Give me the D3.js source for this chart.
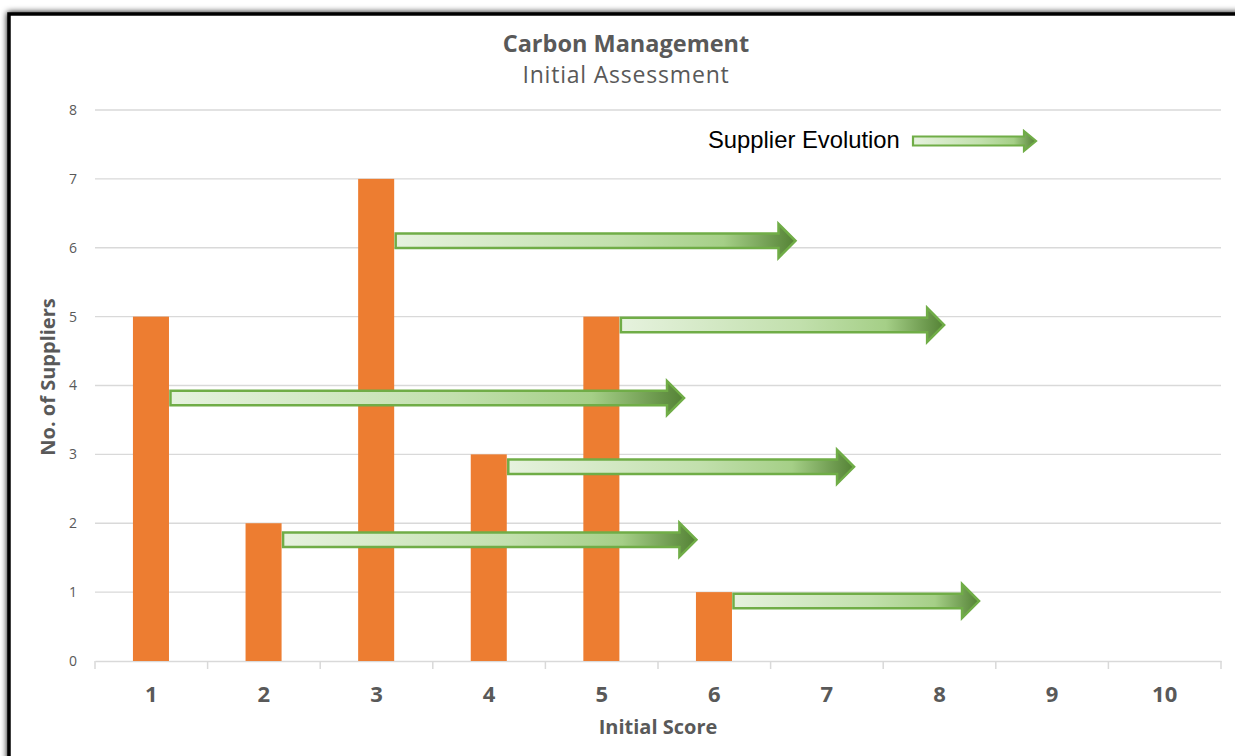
<!DOCTYPE html>
<html><head><meta charset="utf-8">
<script src="https://cdn.jsdelivr.net/npm/d3@7"></script>
<style>html,body{margin:0;padding:0;background:#fff;}svg{display:block;}</style>
</head><body>
<svg id="c" width="1235" height="756"></svg>
<script>
const categories = ["1","2","3","4","5","6","7","8","9","10"];
const supplierCounts = [5,2,7,3,5,1,0,0,0,0];
const yTicks = [0,1,2,3,4,5,6,7,8];
// evolution arrows: start at bar of category, end at score, drawn at level
const arrowFrom = ["1","2","3","4","5","6"];
const arrowToScore = [5.74, 5.85, 6.73, 7.25, 8.05, 8.36];
const arrowLevel = [3.82, 1.76, 6.10, 2.82, 4.88, 0.87];

const svg = d3.select("#c");
const W = 1235, H = 756;
const L = 95, R = 1221, T = 110, B = 661;
const grey = "#595959";
const font = "'Open Sans', sans-serif";

const defs = svg.append("defs");
const f = defs.append("filter").attr("id","sh").attr("x","-5%").attr("y","-5%").attr("width","110%").attr("height","110%");
f.append("feGaussianBlur").attr("in","SourceAlpha").attr("stdDeviation",3).attr("result","b");
f.append("feOffset").attr("in","b").attr("dx",0).attr("dy",0).attr("result","o");
const m = f.append("feMerge"); m.append("feMergeNode").attr("in","o"); m.append("feMergeNode").attr("in","SourceGraphic");
const g = defs.append("linearGradient").attr("id","ag").attr("x1","0").attr("x2","1").attr("y1","0").attr("y2","0");
g.append("stop").attr("offset","0").attr("stop-color","#e6f2de");
g.append("stop").attr("offset","0.55").attr("stop-color","#c2e0ad");
g.append("stop").attr("offset","0.82").attr("stop-color","#a5cf87");
g.append("stop").attr("offset","1").attr("stop-color","#548235");

// frame
svg.append("rect").attr("x",9).attr("y",14).attr("width",W+20).attr("height",H+20)
  .attr("fill","#fff").attr("stroke","#000").attr("stroke-width",3.5).attr("filter","url(#sh)");

const x = d3.scaleBand().domain(categories).range([L,R]);
const xs = d3.scaleLinear().domain([0.5,10.5]).range([L,R]);
const y = d3.scaleLinear().domain([0,8]).range([B,T]);

// gridlines
svg.append("g").selectAll("line").data(yTicks.filter(d=>d>0)).join("line")
  .attr("x1",L).attr("x2",R).attr("y1",d=>y(d)).attr("y2",d=>y(d))
  .attr("stroke","#d9d9d9").attr("stroke-width",1.3);

// y axis labels
const ya = svg.append("g").attr("transform",`translate(${L},0)`)
  .call(d3.axisLeft(y).tickValues(yTicks).tickSize(0).tickPadding(18));
ya.select(".domain").remove();
ya.selectAll("text").attr("fill",grey).style("font-family",font).style("font-size","14px");

// x axis
const xa = svg.append("g").attr("transform",`translate(0,${B})`)
  .call(d3.axisBottom(x).tickSize(0).tickPadding(0));
xa.select(".domain").attr("stroke","#d9d9d9").attr("stroke-width",1.5);
xa.selectAll("text").attr("dy",null).attr("y",41).attr("fill",grey).style("font-family",font).style("font-size","22px").style("font-weight","bold");
svg.append("g").selectAll("line").data(d3.range(categories.length+1)).join("line")
  .attr("x1",i=>L+i*x.bandwidth()).attr("x2",i=>L+i*x.bandwidth())
  .attr("y1",B).attr("y2",B+8).attr("stroke","#d9d9d9").attr("stroke-width",1.5);

// bars
const bw = x.bandwidth()*0.32, off = x.bandwidth()*0.337;
svg.append("g").selectAll("rect").data(categories.map((c,i)=>({c,v:supplierCounts[i]})).filter(d=>d.v>0)).join("rect")
  .attr("x",d=>x(d.c)+off).attr("width",bw)
  .attr("y",d=>y(d.v)).attr("height",d=>y(0)-y(d.v)).attr("fill","#ed7d31");

// arrow path generator
function arrowPath(x0,x1,cy,sh,hh,hl){
  const xb = x1-hl;
  return `M${x0},${cy-sh/2}L${xb},${cy-sh/2}L${xb},${cy-hh/2}L${x1},${cy}L${xb},${cy+hh/2}L${xb},${cy+sh/2}L${x0},${cy+sh/2}Z`;
}
svg.append("g").selectAll("path").data(arrowFrom.map((c,i)=>({c,to:arrowToScore[i],lv:arrowLevel[i]}))).join("path")
  .attr("d",d=>arrowPath(x(d.c)+off+bw+1.5, xs(d.to)-1, y(d.lv), 14.5, 34, 17))
  .attr("fill","url(#ag)").attr("stroke","#70ad47").attr("stroke-width",2.5).attr("stroke-linejoin","miter");

// legend
svg.append("text").attr("x",708).attr("y",148).text("Supplier Evolution")
  .style("font-family","Arial, 'Liberation Sans', sans-serif").style("font-size","23.8px").attr("fill","#000");
svg.append("path").attr("d",arrowPath(913,1036,141,9,20,12))
  .attr("fill","url(#ag)").attr("stroke","#70ad47").attr("stroke-width",2.2);

// titles
svg.append("text").attr("x",626).attr("y",52).attr("text-anchor","middle").text("Carbon Management")
  .style("font-family",font).style("font-size","23.5px").style("font-weight","bold").attr("fill",grey);
svg.append("text").attr("x",626).attr("y",83).attr("text-anchor","middle").text("Initial Assessment")
  .style("font-family",font).style("font-size","23px").style("letter-spacing","0.8px").attr("fill",grey);
svg.append("text").attr("x",658).attr("y",734).attr("text-anchor","middle").text("Initial Score")
  .style("font-family",font).style("font-size","20px").style("font-weight","bold").attr("fill",grey);
svg.append("text").attr("transform","translate(55,377) rotate(-90)").attr("text-anchor","middle").text("No. of Suppliers")
  .style("font-family",font).style("font-size","20px").style("font-weight","bold").attr("fill",grey);
</script>
</body></html>
